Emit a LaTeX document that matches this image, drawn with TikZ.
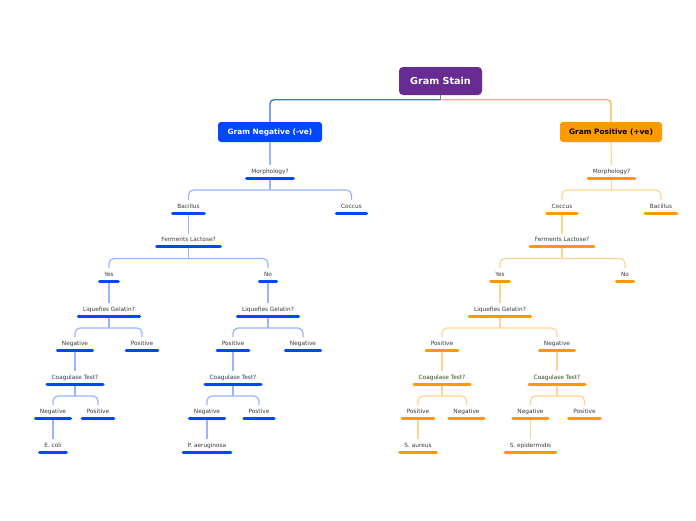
\documentclass[tikz,border=0pt]{standalone}
\usepackage{fontspec}
\setmainfont{DejaVu Sans}
\usetikzlibrary{calc}

\definecolor{stainpurple}{RGB}{102,44,145}
\definecolor{negblue}{RGB}{0,72,255}
\definecolor{negmain}{RGB}{60,112,255}
\definecolor{neglight}{RGB}{150,182,255}
\definecolor{posorange}{RGB}{255,153,0}
\definecolor{posmain}{RGB}{255,178,70}
\definecolor{poslight}{RGB}{255,212,145}
\definecolor{stubbrown}{RGB}{150,125,100}

\tikzset{
	topic/.style={font=\fontsize{5.8}{7}\selectfont, text=black!78, inner xsep=4.5pt, inner ysep=3.5pt, text height=4.4pt, text depth=1.2pt, anchor=south},
	negtopic/.style={topic, append after command={(\tikzlastnode.south west) edge[line width=3pt, line cap=round, draw=negblue] (\tikzlastnode.south east)}},
	postopic/.style={topic, append after command={(\tikzlastnode.south west) edge[line width=3pt, line cap=round, draw=posorange] (\tikzlastnode.south east)}},
	negline/.style={draw=neglight, line width=1.2pt},
	posline/.style={draw=poslight, line width=1.2pt},
}

\begin{document}
\begin{tikzpicture}[
		x={(1pt,0pt)},
		y={(0pt,-1pt)},
	]
		\useasboundingbox (0,0) rectangle (696,520);
		
		\node[fill=stainpurple, text=white, rounded corners=4pt, minimum width=83pt, minimum height=28pt, font=\bfseries\fontsize{9.6}{11}\selectfont] (root) at (440.5,81) {Gram Stain};
		\node[fill=negblue, text=white, rounded corners=3pt, minimum width=104pt, minimum height=20pt, font=\bfseries\fontsize{7.4}{9}\selectfont] (gneg) at (270,132) {Gram Negative (-ve)};
		\node[fill=posorange, text=black, rounded corners=3pt, minimum width=102pt, minimum height=20pt, font=\bfseries\fontsize{7.4}{9}\selectfont] (gpos) at (611,132) {Gram Positive (+ve)};
		
		% Gram negative side
		\node[negtopic] (nmorph) at (270,178) {Morphology?};
		\node[negtopic] (nbac) at (188.5,213) {Bacillus};
		\node[negtopic] (ncoc) at (351.5,213) {Coccus};
		\node[negtopic] (nferm) at (188.5,246.5) {Ferments Lactose?};
		\node[negtopic] (nyes) at (109,281) {Yes};
		\node[negtopic] (nno) at (268,281) {No};
		\node[negtopic] (nliqa) at (109,316) {Liquefies Gelatin?};
		\node[negtopic] (nliqb) at (268,316) {Liquefies Gelatin?};
		\node[negtopic] (nnega) at (75,350) {Negative};
		\node[negtopic] (nposa) at (142,350) {Positive};
		\node[negtopic] (nposb) at (233,350) {Positive};
		\node[negtopic] (nnegb) at (303,350) {Negative};
		\node[negtopic] (ncoaga) at (75,384) {Coagulase Test?};
		\node[negtopic] (ncoagb) at (233,384) {Coagulase Test?};
		\node[negtopic] (nnegc) at (53,418) {Negative};
		\node[negtopic] (nposc) at (98,418) {Positive};
		\node[negtopic] (nnegd) at (207,418) {Negative};
		\node[negtopic] (nposd) at (259,418) {Postive};
		\node[negtopic] (necoli) at (53,452) {E. coli};
		\node[negtopic] (npaer) at (207,452) {P. aeruginosa};
		
		% Gram positive side
		\node[postopic] (pmorph) at (611.5,178) {Morphology?};
		\node[postopic] (pcoc) at (562,213) {Coccus};
		\node[postopic] (pbac) at (661,213) {Bacillus};
		\node[postopic] (pferm) at (562,246.5) {Ferments Lactose?};
		\node[postopic] (pyes) at (500,281) {Yes};
		\node[postopic] (pno) at (625,281) {No};
		\node[postopic] (pliq) at (500,316) {Liquefies Gelatin?};
		\node[postopic] (pposa) at (442,350) {Positive};
		\node[postopic] (pnega) at (557,350) {Negative};
		\node[postopic] (pcoaga) at (442,384) {Coagulase Test?};
		\node[postopic] (pcoagb) at (557,384) {Coagulase Test?};
		\node[postopic] (pposb) at (418,418) {Positive};
		\node[postopic] (pnegb) at (466.5,418) {Negative};
		\node[postopic] (pnegc) at (530.5,418) {Negative};
		\node[postopic] (pposc) at (584.5,418) {Positive};
		\node[postopic] (psaur) at (418,452) {S. aureus};
		\node[postopic] (psepi) at (530.5,452) {S. epidermidis};
		
		% root branches
		\draw[draw=stubbrown, line width=1.3pt] (root.south) -- ++(0,4.5);
		\draw[draw=negmain, line width=1.3pt, rounded corners=4pt] ($(root.south)+(0,4.5)$) -| (gneg.north);
		\draw[draw=posmain, line width=1.3pt, rounded corners=4pt] ($(root.south)+(0,4.5)$) -| (gpos.north);
		\draw[negline] (gneg.south) -- (nmorph.north);
		\draw[posline] (gpos.south) -- (pmorph.north);
		
		% forks
		\foreach \p/\c in {nmorph/nbac, nmorph/ncoc, nferm/nyes, nferm/nno, nliqa/nnega, nliqa/nposa, nliqb/nposb, nliqb/nnegb, ncoaga/nnegc, ncoaga/nposc, ncoagb/nnegd, ncoagb/nposd}{
			\draw[negline, shorten <=1.5pt] (\p.south) -- ++(0,12);
			\draw[negline, rounded corners=5pt] ($(\p.south)+(0,12)$) -| (\c.north);
		}
		\foreach \p/\c in {pmorph/pcoc, pmorph/pbac, pferm/pyes, pferm/pno, pliq/pposa, pliq/pnega, pcoaga/pposb, pcoaga/pnegb, pcoagb/pnegc, pcoagb/pposc}{
			\draw[posline, shorten <=1.5pt] (\p.south) -- ++(0,12);
			\draw[posline, rounded corners=5pt] ($(\p.south)+(0,12)$) -| (\c.north);
		}
		
		% single links
		\foreach \p/\c in {nbac/nferm, nyes/nliqa, nno/nliqb, nnega/ncoaga, nposb/ncoagb, nnegc/necoli, nnegd/npaer}{
			\draw[negline, shorten <=1.5pt] (\p.south) -- (\c.north);
		}
		\foreach \p/\c in {pcoc/pferm, pyes/pliq, pposa/pcoaga, pnega/pcoagb, pposb/psaur, pnegc/psepi}{
			\draw[posline, shorten <=1.5pt] (\p.south) -- (\c.north);
		}
	\end{tikzpicture}
\end{document}
